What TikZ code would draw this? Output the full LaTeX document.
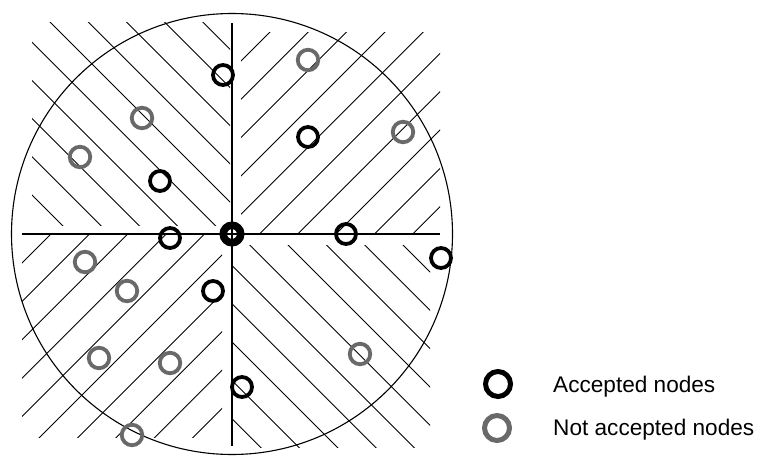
\documentclass[tikz,border=0pt]{standalone}
\usepackage{fontspec}
\setmainfont{Liberation Sans}
\definecolor{rejgray}{RGB}{105,105,105}
\begin{document}
\begin{tikzpicture}[x=1pt,y=-1pt,
  hatch/.style={line width=0.9pt,black},
  axis/.style={line width=2pt,black},
  acc/.style={circle,draw=black,line width=3.8pt,minimum size=20pt,inner sep=0pt},
  rej/.style={circle,draw=rejgray,line width=3.8pt,minimum size=20.5pt,inner sep=0pt},
  lacc/.style={circle,draw=black,line width=5pt,minimum size=25pt,inner sep=0pt},
  lrej/.style={circle,draw=rejgray,line width=5pt,minimum size=25pt,inner sep=0pt},
  legtext/.style={anchor=base west,inner sep=0pt,font=\fontsize{22.6}{26}\selectfont}]
\useasboundingbox (0,0) rectangle (759,457);
% hatching
\begin{scope}
  \clip (32,23) rectangle (230,225);
  \foreach \k in {-5,...,4}{\pgfmathsetmacro\c{28+38.2*\k}
    \draw[hatch] (\c,0) -- ({\c+500},500);}
\end{scope}
\begin{scope}
  \clip (241,33) rectangle (440,233);
  \foreach \k in {0,...,9}{\pgfmathsetmacro\c{302+38.3*\k}
    \draw[hatch] (\c,0) -- ({\c-500},500);}
\end{scope}
\begin{scope}
  \clip (22,235) rectangle (222,437);
  \foreach \k in {0,...,9}{\pgfmathsetmacro\c{285+38.4*\k}
    \draw[hatch] (\c,0) -- ({\c-500},500);}
\end{scope}
\begin{scope}
  \clip (232,245) rectangle (430,447);
  \foreach \k in {0,...,9}{\pgfmathsetmacro\c{158-38.3*\k}
    \draw[hatch] (\c,0) -- ({\c+500},500);}
\end{scope}
% range circle
\coordinate (o) at (232,234);
\draw[line width=1.1pt] (o) circle[radius=220.5pt];
% axes
\coordinate (axl) at (22,234);
\coordinate (axr) at (440,234);
\coordinate (axt) at (232,23);
\coordinate (axb) at (232,446);
\draw[axis] (axl) -- (axr);
\draw[axis] (axt) -- (axb);
% central node
\node[circle,draw=black,line width=7.5pt,minimum size=17.5pt,inner sep=0pt] (c0) at (o) {};
% accepted nodes
\node[acc] (a1) at (223,75) {};
\node[acc] (a2) at (308,137) {};
\node[acc] (a3) at (160,181) {};
\node[acc] (a4) at (170,238) {};
\node[acc] (a5) at (346,234) {};
\node[acc] (a6) at (441,258) {};
\node[acc] (a7) at (213,291) {};
\node[acc] (a8) at (242,387) {};
% not accepted nodes
\node[rej] (r1) at (308,60) {};
\node[rej] (r2) at (142,118) {};
\node[rej] (r3) at (80,157) {};
\node[rej] (r4) at (403,132) {};
\node[rej] (r5) at (85,262) {};
\node[rej] (r6) at (127,291) {};
\node[rej] (r7) at (99,358) {};
\node[rej] (r8) at (170,363) {};
\node[rej] (r9) at (360,354) {};
\node[rej] (r10) at (132,435) {};
% legend
\node[lacc] (la) at (498,384) {};
\node[lrej] (lr) at (497,428) {};
\node[legtext] (ta) at (553,392) {Accepted nodes};
\node[legtext] (tr) at (553,435) {Not accepted nodes};
\end{tikzpicture}
\end{document}
